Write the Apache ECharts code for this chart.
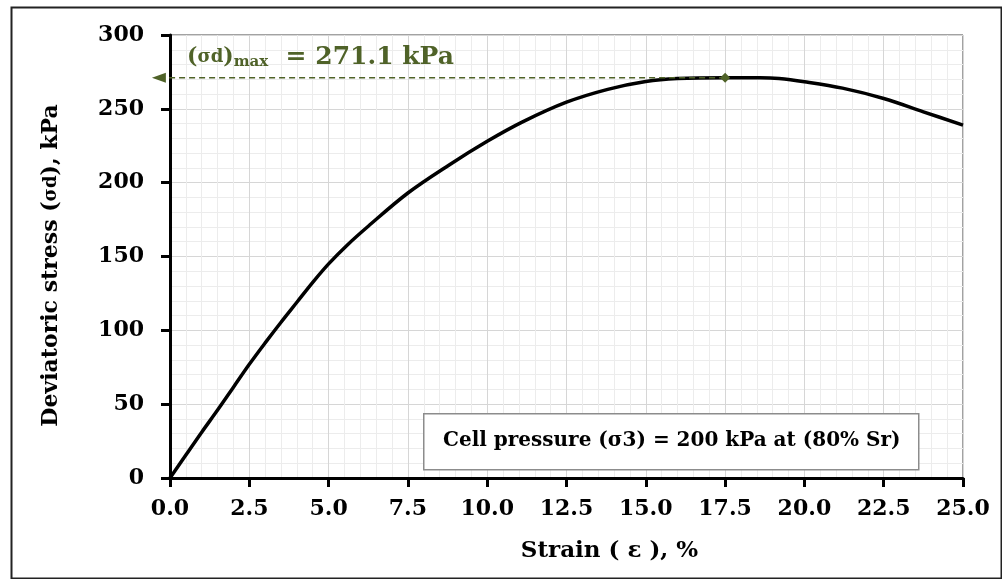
<!DOCTYPE html>
<html>
<head>
<meta charset="utf-8">
<script src="https://cdn.jsdelivr.net/npm/echarts@6/dist/echarts.min.js"></script>
<style>
  html, body { margin: 0; padding: 0; background: #fff; }
  #chart { width: 1002px; height: 579px; }
</style>
</head>
<body>
<div id="chart"></div>
<script>
// Deviatoric stress vs strain.
const strain = [0, 0.5, 1, 1.5, 2, 2.5, 3, 3.5, 4, 4.5, 5, 5.6, 6.25, 7.5, 8.8, 10, 11.1, 12.5, 13.8, 15, 16, 17.5, 18.6, 19.2, 20, 21.2, 22.5, 23.75, 25];
const stress = [0, 15.5, 31, 46, 61.5, 77, 91.5, 105.5, 119, 132.5, 145, 158, 170.5, 193, 212, 228, 241, 254.5, 263.2, 268.5, 270.5, 271.1, 271.1, 270.6, 268.4, 264, 257, 248, 239];

// peak marker and the dashed pointer back to the y axis
const peakStrain = 17.5;
const peakStress = 271.1;
const arrowStrain = -0.35;

const xTicks = { min: 0, max: 25, interval: 2.5 };
const yTicks = { min: 0, max: 300, interval: 50 };

const FONT = 'DejaVu Serif';
const OLIVE = '#4f6228';

const chart = echarts.init(document.getElementById('chart'));

const curve = strain.map((s, i) => [s, stress[i]]);

chart.setOption({
  animation: false,
  grid: {
    left: 170, right: 39, top: 35, bottom: 101,
    show: true, borderColor: '#444', borderWidth: 1, backgroundColor: '#fff',
  },
  xAxis: {
    type: 'value',
    min: xTicks.min, max: xTicks.max, interval: xTicks.interval,
    name: 'Strain ( ε ), %',
    nameLocation: 'middle', nameGap: 62,
    nameTextStyle: { fontFamily: FONT, fontWeight: 'bold', fontSize: 23, color: '#000', padding: [0, 0, 0, 86] },
    axisLine: { show: true, onZero: false, lineStyle: { color: '#000', width: 3 } },
    axisTick: { show: true, inside: false, length: 9, lineStyle: { color: '#000', width: 3 } },
    axisLabel: {
      fontFamily: FONT, fontWeight: 'bold', fontSize: 22, color: '#000', margin: 20,
      formatter: (v) => v.toFixed(1),
    },
    splitLine: { show: true, lineStyle: { color: '#d6d6d6', width: 1 } },
    minorTick: { show: false, splitNumber: 5 },
    minorSplitLine: { show: true, lineStyle: { color: '#ececec', width: 1 } },
  },
  yAxis: {
    type: 'value',
    min: yTicks.min, max: yTicks.max, interval: yTicks.interval,
    name: '{n|Deviatoric stress (}{s|σd}{n|), kPa}',
    nameLocation: 'middle', nameGap: 108, nameRotate: 90,
    nameTextStyle: {
      padding: [0, 18, 0, 0],
      rich: {
        n: { fontFamily: FONT, fontWeight: 'bold', fontSize: 22, color: '#000' },
        s: { fontFamily: FONT, fontWeight: 'bold', fontSize: 18, color: '#000' },
      },
    },
    axisLine: { show: true, onZero: false, lineStyle: { color: '#000', width: 3 } },
    axisTick: { show: true, inside: false, length: 9, lineStyle: { color: '#000', width: 3 } },
    axisLabel: { fontFamily: FONT, fontWeight: 'bold', fontSize: 22, color: '#000', margin: 26 },
    splitLine: { show: true, lineStyle: { color: '#d6d6d6', width: 1 } },
    minorTick: { show: false, splitNumber: 5 },
    minorSplitLine: { show: true, lineStyle: { color: '#ececec', width: 1 } },
  },
  series: [
    {
      name: 'Deviatoric stress',
      type: 'line',
      data: curve,
      smooth: 0.35,
      showSymbol: false,
      lineStyle: { color: '#000', width: 3.5 },
      z: 3,
    },
    {
      name: 'Peak',
      type: 'line',
      clip: false,
      data: [
        { value: [peakStrain, peakStress], symbol: 'diamond', symbolSize: 10 },
        { value: [arrowStrain, peakStress], symbol: 'triangle', symbolSize: [10, 14], symbolRotate: 90 },
      ],
      showSymbol: true,
      itemStyle: { color: OLIVE },
      lineStyle: { color: OLIVE, width: 1.5, type: [6, 4] },
      z: 4,
    },
  ],
  graphic: [
    {
      type: 'rect', left: 9, top: 5, z: -1, silent: true,
      shape: { width: 990, height: 571 },
      style: { fill: 'none', stroke: '#222', lineWidth: 2 },
    },
    {
      type: 'text', left: 187, top: 45, z: 100,
      style: {
        text: '{p|(}{s|σd}{p|)}{m|max}{v|  = 271.1 kPa}',
        rich: {
          p: { fontFamily: FONT, fontWeight: 'bold', fontSize: 22, fill: OLIVE },
          s: { fontFamily: FONT, fontWeight: 'bold', fontSize: 18, fill: OLIVE },
          m: { fontFamily: FONT, fontWeight: 'bold', fontSize: 15, fill: OLIVE, verticalAlign: 'bottom' },
          v: { fontFamily: FONT, fontWeight: 'bold', fontSize: 25, fill: OLIVE },
        },
      },
    },
    {
      type: 'rect', left: 423, top: 413, z: 100,
      shape: { width: 495, height: 56 },
      style: { fill: '#fff', stroke: '#8c8c8c', lineWidth: 1.5 },
    },
    {
      type: 'text', left: 443, top: 431, z: 101,
      style: {
        text: 'Cell pressure (σ3) = 200 kPa at (80% Sr)',
        fontFamily: FONT, fontWeight: 'bold', fontSize: 20, fill: '#000',
      },
    },
  ],
});
</script>
</body>
</html>
